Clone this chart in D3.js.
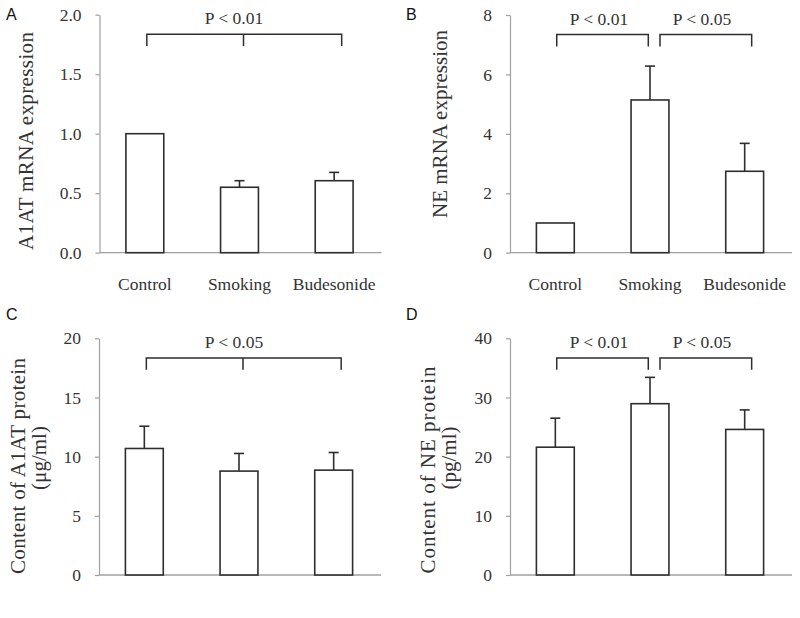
<!DOCTYPE html>
<html>
<head>
<meta charset="utf-8">
<script src="https://cdn.jsdelivr.net/npm/d3@7"></script>
<style>
  html, body { margin: 0; padding: 0; background: #fff; }
  svg { display: block; }
  text { font-family: "Liberation Serif", "Times New Roman", serif; }
</style>
</head>
<body>
<svg id="chart" width="800" height="618"></svg>
<script>
// ---------------- data ----------------
const categories = ["Control", "Smoking", "Budesonide"];

const a1atMrnaMean = [1.0, 0.55, 0.605];
const a1atMrnaErr  = [0, 0.055, 0.07];
const a1atMrnaTicks = [0, 0.5, 1.0, 1.5, 2.0];

const neMrnaMean = [1.0, 5.14, 2.74];
const neMrnaErr  = [0, 1.14, 0.94];
const neMrnaTicks = [0, 2, 4, 6, 8];

const a1atProtMean = [10.69, 8.78, 8.86];
const a1atProtErr  = [1.88, 1.49, 1.49];
const a1atProtTicks = [0, 5, 10, 15, 20];

const neProtMean = [21.6, 28.95, 24.6];
const neProtErr  = [4.9, 4.45, 3.3];
const neProtTicks = [0, 10, 20, 30, 40];

const panelLetters = ["A", "B", "C", "D"];
const yLabelsA = ["A1AT mRNA expression"];
const yLabelsB = ["NE mRNA expression"];
const yLabelsC = ["Content of A1AT protein", "(\u03bcg/ml)"];
const yLabelsD = ["Content of NE protein", "(pg/ml)"];

const sigA = [{from: 0, to: 2, mid: 1, label: "P < 0.01"}];
const sigB = [{from: 0, to: 1, label: "P < 0.01"}, {from: 1, to: 2, label: "P < 0.05"}];
const sigC = [{from: 0, to: 2, mid: 1, label: "P < 0.05"}];
const sigD = [{from: 0, to: 1, label: "P < 0.01"}, {from: 1, to: 2, label: "P < 0.05"}];

// ---------------- layout ----------------
const panels = [
  {letter: panelLetters[0], mean: a1atMrnaMean, err: a1atMrnaErr, ticks: a1atMrnaTicks, fmt: d3.format(".1f"),
   x0: 99.5, yTop: 14.7, yBot: 252.7, ox: 0, oy: 0, ylab: yLabelsA, sig: sigA,
   ylabPos: [{x: 33.3, y: 141, len: 218}], clipY: 286,
   sigPos: {left: [2], right: [7.5], mid: 4, labelX: [234]}},
  {letter: panelLetters[1], mean: neMrnaMean, err: neMrnaErr, ticks: neMrnaTicks, fmt: d3.format("d"),
   x0: 510, yTop: 15, yBot: 252.7, ox: 400, oy: 0, ylab: yLabelsB, sig: sigB,
   ylabPos: [{x: 446.7, y: 124, len: 188}], clipY: 286,
   sigPos: {left: [1.4, 10], right: [-1.7, 7], labelX: [599, 702]}},
  {letter: panelLetters[2], mean: a1atProtMean, err: a1atProtErr, ticks: a1atProtTicks, fmt: d3.format("d"),
   x0: 99, yTop: 338.3, yBot: 575, ox: 0, oy: 300, ylab: yLabelsC, sig: sigC,
   ylabPos: [{x: 25, y: 466, len: 216}, {x: 46, y: 458, len: null}], clipY: 610,
   sigPos: {left: [2], right: [7.5], mid: 4, labelX: [234]}},
  {letter: panelLetters[3], mean: neProtMean, err: neProtErr, ticks: neProtTicks, fmt: d3.format("d"),
   x0: 510, yTop: 338.3, yBot: 575, ox: 400, oy: 300, ylab: yLabelsD, sig: sigD,
   ylabPos: [{x: 435, y: 470, len: 207}, {x: 456, y: 458, len: null}], clipY: 610,
   sigPos: {left: [1.4, 10], right: [-1.7, 7], labelX: [599, 702]}}
];

const svg = d3.select("#chart");
const defs = svg.append("defs");
const axisColor = "#a0a0a0";
const inkColor = "#2e2e2e";
const textColor = "#333";

panels.forEach((p, i) => {
  const g = svg.append("g");

  const x = d3.scaleBand().domain(categories)
    .range([p.x0 - 2, p.x0 - 2 + 284]).paddingInner(0.6).paddingOuter(0.3);
  const y = d3.scaleLinear().domain([p.ticks[0], p.ticks[p.ticks.length - 1]])
    .range([p.yBot, p.yTop]);

  // panel letter
  g.append("text").attr("x", p.ox + 6).attr("y", p.oy + 19.5)
    .style("font-family", "'Liberation Sans', Arial, sans-serif")
    .style("font-size", "16px").attr("fill", "#111").text(p.letter);

  // y axis
  const yAxis = d3.axisLeft(y).tickValues(p.ticks).tickFormat(p.fmt)
    .tickSize(4).tickSizeOuter(0).tickPadding(14);
  const ya = g.append("g").attr("transform", `translate(${p.x0},0)`).call(yAxis);
  ya.select(".domain").attr("stroke", axisColor).attr("stroke-width", 1.2);
  ya.selectAll(".tick line").attr("stroke", axisColor).attr("stroke-width", 1.2);
  ya.selectAll(".tick text").style("font-family", "'Liberation Serif', serif")
    .style("font-size", "17.5px").attr("fill", textColor);

  // x axis line (no ticks)
  g.append("line").attr("x1", p.x0).attr("x2", p.x0 + 282)
    .attr("y1", y(0)).attr("y2", y(0))
    .attr("stroke", axisColor).attr("stroke-width", 1.3);

  // category labels (clipped like the original)
  const clipId = "clip" + i;
  defs.append("clipPath").attr("id", clipId).append("rect")
    .attr("x", p.ox).attr("y", p.oy).attr("width", 400).attr("height", p.clipY - p.oy);
  const xa = g.append("g").attr("clip-path", `url(#${clipId})`)
    .attr("transform", `translate(0,${y(0)})`)
    .call(d3.axisBottom(x).tickSize(0).tickPadding(25));
  xa.select(".domain").remove();
  xa.selectAll(".tick text").style("font-family", "'Liberation Serif', serif")
    .style("font-size", "17.5px").attr("fill", textColor);

  // bars
  const data = categories.map((c, k) => ({c, v: p.mean[k], e: p.err[k]}));
  g.selectAll("rect.bar").data(data).join("rect").attr("class", "bar")
    .attr("x", d => x(d.c)).attr("width", x.bandwidth())
    .attr("y", d => y(d.v)).attr("height", d => y(0) - y(d.v))
    .attr("fill", "#fff").attr("stroke", inkColor).attr("stroke-width", 1.6);

  // error bars
  const eb = data.filter(d => d.e > 0);
  g.selectAll("line.err").data(eb).join("line").attr("class", "err")
    .attr("x1", d => x(d.c) + x.bandwidth() / 2).attr("x2", d => x(d.c) + x.bandwidth() / 2)
    .attr("y1", d => y(d.v)).attr("y2", d => y(d.v + d.e))
    .attr("stroke", inkColor).attr("stroke-width", 1.6);
  g.selectAll("line.cap").data(eb).join("line").attr("class", "cap")
    .attr("x1", d => x(d.c) + x.bandwidth() / 2 - 5).attr("x2", d => x(d.c) + x.bandwidth() / 2 + 5)
    .attr("y1", d => y(d.v + d.e)).attr("y2", d => y(d.v + d.e))
    .attr("stroke", inkColor).attr("stroke-width", 1.6);

  // significance brackets
  const cx = k => x(categories[k]) + x.bandwidth() / 2;
  const bY = p.yTop + 19.6, bDrop = 11.8;
  p.sig.forEach((s, k) => {
    const xl = cx(s.from) + p.sigPos.left[k];
    const xr = cx(s.to) + p.sigPos.right[k];
    g.append("path")
      .attr("d", `M${xl},${bY + bDrop}V${bY}H${xr}V${bY + bDrop}`)
      .attr("fill", "none").attr("stroke", inkColor).attr("stroke-width", 1.5);
    if (s.mid !== undefined) {
      const xm = cx(s.mid) + p.sigPos.mid;
      g.append("line").attr("x1", xm).attr("x2", xm).attr("y1", bY).attr("y2", bY + bDrop)
        .attr("stroke", inkColor).attr("stroke-width", 1.5);
    }
    g.append("text").attr("x", p.sigPos.labelX[k]).attr("y", p.yTop + 9.5)
      .attr("text-anchor", "middle").style("font-size", "17.5px").attr("fill", textColor)
      .text(s.label);
  });

  // y labels
  p.ylab.forEach((t, k) => {
    const pos = p.ylabPos[k];
    const tx = g.append("text")
      .attr("transform", `translate(${pos.x},${pos.y}) rotate(-90)`)
      .attr("text-anchor", "middle")
      .style("font-size", "21px").attr("fill", textColor).text(t);
    if (pos.len) tx.attr("textLength", pos.len).attr("lengthAdjust", "spacing");
  });
});
</script>
</body>
</html>
